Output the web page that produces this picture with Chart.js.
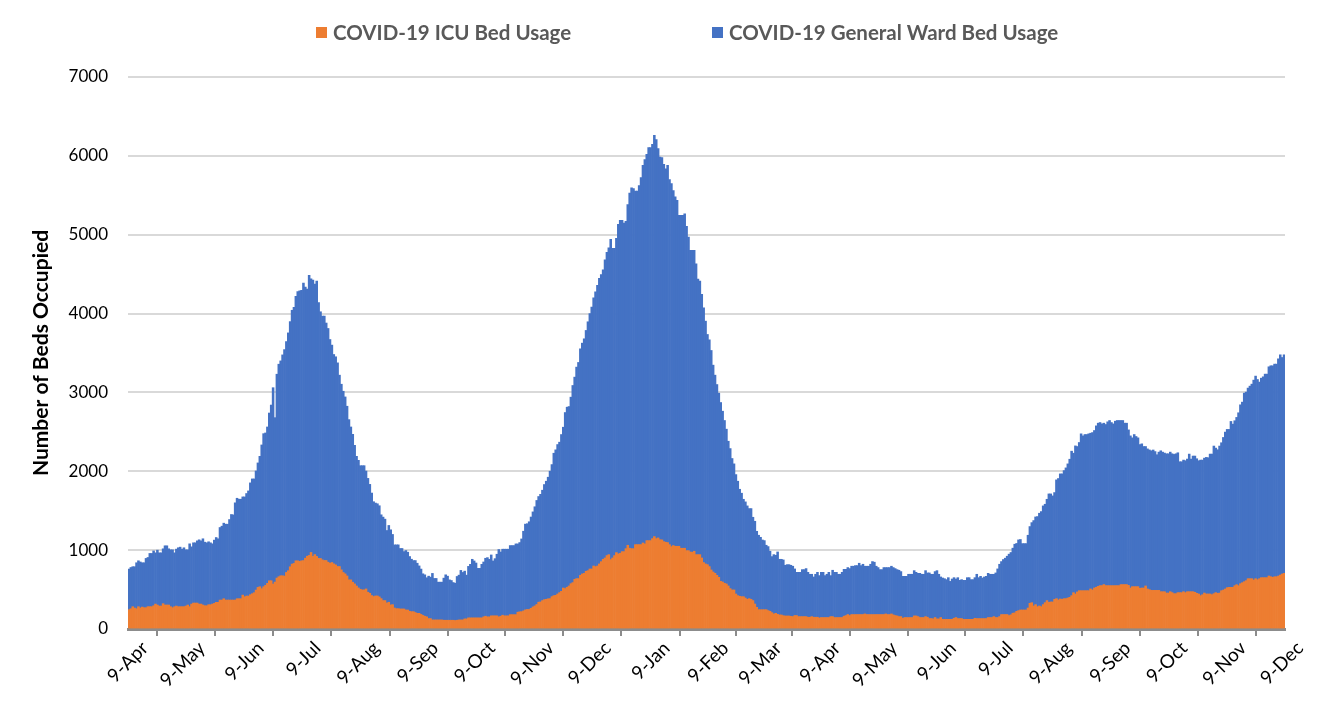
<!DOCTYPE html>
<html>
<head>
<meta charset="utf-8">
<title>COVID-19 Bed Usage</title>
<script src="https://cdn.jsdelivr.net/npm/chart.js@4.4.1/dist/chart.umd.min.js"></script>
<style>
  html, body { margin: 0; padding: 0; background: #fff; }
  #wrap { width: 1328px; height: 719px; }
</style>
</head>
<body>
<div id="wrap"><canvas id="bedChart" width="1328" height="719"></canvas></div>
<script>
// daily values, 9-Apr-2020 .. 9-Dec-2021
const startDate = Date.UTC(2020, 3, 9);
const monthNames = ['Jan', 'Feb', 'Mar', 'Apr', 'May', 'Jun', 'Jul', 'Aug', 'Sep', 'Oct', 'Nov', 'Dec'];
const tickLabels = ['9-Apr', '9-May', '9-Jun', '9-Jul', '9-Aug', '9-Sep', '9-Oct', '9-Nov', '9-Dec', '9-Jan',
                    '9-Feb', '9-Mar', '9-Apr', '9-May', '9-Jun', '9-Jul', '9-Aug', '9-Sep', '9-Oct', '9-Nov', '9-Dec'];
const yTicks = [0, 1000, 2000, 3000, 4000, 5000, 6000, 7000];

const icuBeds = [
  245,257,283,266,257,283,266,278,270,270, 283,283,283,295,316,304,291,291,321,304,
  304,304,283,270,283,291,283,283,283,283, 291,304,283,316,329,329,329,316,316,304,
  295,295,308,308,316,325,338,338,367,367, 384,367,367,367,367,367,367,384,384,384,
  430,409,418,418,435,447,460,494,527,536, 511,536,553,578,612,612,570,595,646,663,
  675,675,671,717,739,789,823,831,865,865, 857,865,868,898,923,932,970,919,944,919,
  894,894,877,868,868,847,834,843,826,813, 792,792,750,716,699,673,623,623,593,572,
  546,521,504,496,496,508,466,453,424,411, 419,419,407,385,360,360,330,339,305,309,
  267,258,258,254,254,254,241,241,224,220, 220,208,199,199,185,172,162,154,132,132,
  115,115,115,115,115,115,111,111,111,111, 111,111,107,111,115,115,115,128,128,141,
  141,141,141,141,141,141,141,154,162,154, 154,167,167,167,167,154,162,175,167,167,
  167,182,182,182,182,213,218,220,230,243, 247,247,262,280,293,310,340,343,360,372,
  376,383,385,410,423,427,444,461,478,520, 512,529,546,575,588,630,639,639,681,698,
  706,732,740,761,761,799,791,799,825,854, 884,901,931,943,880,901,931,969,952,960,
  981,981,1019,1062,1024,1019,1019,1070,1070,1070, 1070,1091,1079,1121,1121,1121,1146,1172,1146,1155,
  1132,1130,1108,1100,1096,1070,1045,1058,1049,1049, 1049,1024,1024,1024,994,994,977,973,986,943,
  943,943,901,842,825,816,791,749,723,706, 681,655,605,596,580,571,546,512,495,495,
  444,423,415,410,410,393,376,385,376,360, 317,275,245,245,245,245,245,233,224,207,
  190,199,186,178,178,169,165,165,165,160, 157,170,170,157,157,157,157,157,149,149,
  157,149,149,149,140,145,145,145,145,145, 157,157,145,145,145,145,145,162,170,183,
  170,183,183,183,183,183,183,183,191,183, 183,183,183,183,183,183,183,183,183,191,
  183,183,191,179,170,166,157,157,136,145, 145,145,145,145,166,166,157,145,145,145,
  157,149,132,132,128,145,128,128,145,123, 123,123,123,123,123,136,145,132,132,132,
  123,123,123,123,123,123,136,132,132,132, 132,132,132,145,145,145,157,145,145,157,
  183,183,183,183,170,180,200,205,224,233, 241,241,241,241,266,326,334,292,309,283,
  292,283,309,334,360,338,343,343,376,385, 368,381,376,385,385,393,402,423,461,444,
  470,486,486,486,486,486,486,508,495,520, 529,541,550,550,563,550,550,550,550,550,
  550,550,550,563,563,563,563,554,520,537, 537,537,537,516,520,520,546,508,499,490,
  490,490,490,490,473,473,473,456,456,473, 461,448,448,461,461,461,473,461,473,473,
  473,473,465,452,444,423,435,456,444,444, 444,435,448,461,452,456,486,494,507,524,
  528,528,528,549,562,549,575,587,600,613, 638,638,638,621,638,625,638,651,651,651,
  651,672,663,655,663,663,672,684,697,706
];

const wardBeds = [
  515,523,507,524,583,582,584,562,570,625, 624,675,675,695,650,696,675,675,696,751,
  751,713,721,734,683,722,747,755,730,747, 713,700,797,726,764,764,789,815,802,840,
  806,798,798,785,764,802,822,806,920,937, 958,962,962,1021,1085,1080,1233,1274,1262,1262,
  1245,1266,1300,1333,1418,1456,1443,1510,1579,1654, 1823,1941,1933,1984,2127,2228,2490,2085,2585,2695,
  2725,2801,2872,2928,3016,3109,3219,3249,3354,3413, 3430,3430,3520,3439,3389,3553,3470,3507,3431,3494,
  3244,3129,3091,3100,3012,2964,2837,2757,2655,2639, 2583,2427,2354,2299,2244,2152,2032,1939,1876,1757,
  1644,1618,1567,1575,1575,1495,1444,1381,1300,1203, 1178,1169,1156,1063,1059,1033,919,974,953,890,
  800,809,809,767,767,728,754,733,695,665, 648,660,635,601,575,528,525,496,538,526,
  590,526,526,479,479,479,534,576,559,512, 504,478,474,555,568,628,602,606,555,653,
  679,743,722,696,628,628,679,696,735,751, 730,772,696,725,781,854,816,837,845,845,
  845,876,876,876,897,866,878,922,1010,1087, 1088,1113,1158,1205,1257,1320,1340,1365,1400,1460,
  1498,1542,1616,1675,1806,1845,1895,1908,1988,2039, 2233,2284,2275,2365,2500,2564,2682,2741,2872,2927,
  2974,3054,3156,3239,3321,3401,3486,3558,3621,3642, 3672,3782,3845,3892,4061,3925,3895,3984,4179,4222,
  4201,4167,4150,4319,4505,4577,4565,4484,4484,4552, 4653,4789,4873,4898,4983,4983,5000,5088,5059,4936,
  4853,4847,4784,4737,4784,4628,4605,4502,4431,4386, 4196,4221,4221,4242,4112,3976,3824,3828,3815,3689,
  3494,3469,3342,3231,3079,2919,2876,2783,2623,2513, 2419,2336,2267,2166,2064,1963,1835,1776,1667,1599,
  1514,1451,1357,1312,1235,1219,1185,1142,1151,1057, 1049,964,944,918,884,876,817,812,762,711,
  753,736,791,706,706,707,643,651,651,648, 639,592,549,562,562,596,596,609,570,545,
  537,511,545,570,537,574,574,532,549,574, 520,588,574,574,549,549,574,595,587,596,
  596,613,613,621,621,651,621,638,605,613, 613,638,672,664,613,596,570,570,596,588,
  596,596,605,600,596,587,588,571,532,523, 523,549,549,549,574,553,549,561,549,549,
  583,562,579,562,566,583,612,566,515,524, 515,503,528,481,511,515,489,519,485,494,
  494,494,528,528,503,503,515,562,519,536, 515,528,536,561,549,549,537,566,617,664,
  672,698,715,740,779,790,825,870,861,897, 894,842,842,842,923,973,1015,1083,1112,1143,
  1176,1206,1252,1248,1285,1375,1370,1345,1354,1506, 1540,1586,1591,1624,1658,1701,1751,1832,1768,1878,
  1844,1879,1989,1963,1980,1980,1989,1975,1996,1997, 2047,2069,2068,2051,2047,2043,2077,2094,2068,2051,
  2085,2094,2094,2081,2081,2047,2047,1971,1929,1887, 1929,1904,1887,1823,1828,1794,1768,1776,1772,1770,
  1780,1760,1720,1753,1787,1770,1758,1766,1766,1770, 1761,1766,1774,1774,1660,1660,1669,1673,1682,1745,
  1682,1720,1728,1707,1690,1719,1707,1711,1732,1728, 1774,1783,1872,1833,1821,1864,1876,1935,1990,2007,
  2003,2104,2070,2092,2121,2193,2268,2290,2391,2391, 2417,2442,2467,2535,2569,2539,2493,2530,2547,2581,
  2581,2653,2675,2683,2696,2696,2754,2793,2746,2771
];

// one category per day, labelled like "9-Apr"
const dayLabels = icuBeds.map((_, i) => {
    const d = new Date(startDate + i * 86400000);
    return d.getUTCDate() + '-' + monthNames[d.getUTCMonth()];
});

const FONT = 'Lato, "Open Sans", sans-serif';

// legend drawn by hand so it sits where the original one is
const topLegend = {
    id: 'topLegend',
    afterDraw(chart) {
        const ctx = chart.ctx;
        const xs = [316, 712];
        ctx.save();
        ctx.font = 'bold 20.5px ' + FONT;
        ctx.textBaseline = 'middle';
        chart.data.datasets.forEach((ds, i) => {
            ctx.fillStyle = ds.backgroundColor;
            ctx.fillRect(xs[i], 27, 11, 11);
            ctx.fillStyle = '#595959';
            ctx.fillText(ds.label, xs[i] + 17, 33);
        });
        ctx.restore();
    }
};

const ctx = document.getElementById('bedChart').getContext('2d');
new Chart(ctx, {
    type: 'bar',
    data: {
        labels: dayLabels,
        datasets: [
            {
                label: 'COVID-19 ICU Bed Usage',
                data: icuBeds,
                backgroundColor: '#ED7D31',
                borderWidth: 0,
                barPercentage: 1,
                categoryPercentage: 1
            },
            {
                label: 'COVID-19 General Ward Bed Usage',
                data: wardBeds,
                backgroundColor: '#4472C4',
                borderWidth: 0,
                barPercentage: 1,
                categoryPercentage: 1
            }
        ]
    },
    options: {
        responsive: false,
        animation: false,
        layout: { padding: { top: 77, right: 43, bottom: 0, left: 0 } },
        plugins: {
            legend: { display: false },
            tooltip: { enabled: false }
        },
        scales: {
            x: {
                stacked: true,
                afterFit: (scale) => { scale.height = 90; },
                grid: {
                    drawOnChartArea: false,
                    drawTicks: true,
                    tickLength: 7,
                    color: '#8c8c8c',
                    lineWidth: 2,
                    offset: true
                },
                border: { color: '#8c8c8c', width: 3 },
                ticks: {
                    autoSkip: false,
                    maxRotation: 45,
                    minRotation: 45,
                    labelOffset: 16,
                    padding: 1,
                    color: '#000',
                    font: { family: FONT, size: 19 },
                    callback: function (value) {
                        const lab = this.getLabelForValue(value);
                        return tickLabels.includes(lab) ? lab : null;
                    }
                }
            },
            y: {
                stacked: true,
                min: yTicks[0],
                max: yTicks[yTicks.length - 1],
                afterFit: (scale) => { scale.width = 128; },
                afterBuildTicks: (scale) => { scale.ticks = yTicks.map(v => ({ value: v })); },
                grid: { color: '#d9d9d9', lineWidth: 2, drawTicks: false },
                border: { display: false },
                ticks: {
                    padding: 20,
                    color: '#000',
                    font: { family: FONT, size: 17 },
                    callback: (value) => String(value)
                },
                title: {
                    display: true,
                    text: 'Number of Beds Occupied',
                    color: '#000',
                    font: { family: FONT, size: 21, weight: 'bold' },
                    padding: { top: 29, bottom: 0 }
                }
            }
        }
    },
    plugins: [topLegend]
});
</script>
</body>
</html>
